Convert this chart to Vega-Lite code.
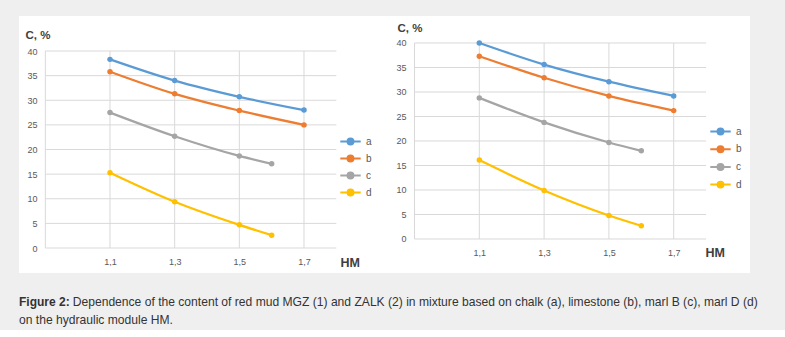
{
  "$schema": "https://vega.github.io/schema/vega-lite/v6.json",
  "background": "#efefef",
  "padding": {"left": 19, "top": 16, "right": 35, "bottom": 4},
  "config": {"view": {"stroke": null, "fill": "white"}, "font": "Liberation Sans"},
  "datasets": {
    "hgrid": [{"v": 0}, {"v": 5}, {"v": 10}, {"v": 15}, {"v": 20}, {"v": 25}, {"v": 30}, {"v": 35}, {"v": 40}],
    "vgrid": [{"v": 0.9}, {"v": 1.1}, {"v": 1.3}, {"v": 1.5}, {"v": 1.7}],
    "mgz": [
      {"series": "a", "HM": 1.1, "C": 38.3}, {"series": "a", "HM": 1.3, "C": 34.0}, {"series": "a", "HM": 1.5, "C": 30.7}, {"series": "a", "HM": 1.7, "C": 28.0},
      {"series": "b", "HM": 1.1, "C": 35.8}, {"series": "b", "HM": 1.3, "C": 31.3}, {"series": "b", "HM": 1.5, "C": 27.9}, {"series": "b", "HM": 1.7, "C": 25.0},
      {"series": "c", "HM": 1.1, "C": 27.5}, {"series": "c", "HM": 1.3, "C": 22.7}, {"series": "c", "HM": 1.5, "C": 18.7}, {"series": "c", "HM": 1.6, "C": 17.1},
      {"series": "d", "HM": 1.1, "C": 15.3}, {"series": "d", "HM": 1.3, "C": 9.4}, {"series": "d", "HM": 1.5, "C": 4.7}, {"series": "d", "HM": 1.6, "C": 2.6}
    ],
    "zalk": [
      {"series": "a", "HM": 1.1, "C": 40.0}, {"series": "a", "HM": 1.3, "C": 35.6}, {"series": "a", "HM": 1.5, "C": 32.1}, {"series": "a", "HM": 1.7, "C": 29.2},
      {"series": "b", "HM": 1.1, "C": 37.3}, {"series": "b", "HM": 1.3, "C": 32.9}, {"series": "b", "HM": 1.5, "C": 29.2}, {"series": "b", "HM": 1.7, "C": 26.2},
      {"series": "c", "HM": 1.1, "C": 28.8}, {"series": "c", "HM": 1.3, "C": 23.8}, {"series": "c", "HM": 1.5, "C": 19.7}, {"series": "c", "HM": 1.6, "C": 18.0},
      {"series": "d", "HM": 1.1, "C": 16.1}, {"series": "d", "HM": 1.3, "C": 9.9}, {"series": "d", "HM": 1.5, "C": 4.8}, {"series": "d", "HM": 1.6, "C": 2.7}
    ]
  },
  "title": {
    "text": "Figure 2:",
    "subtitle": ["\u200b\u00a0\u00a0\u00a0\u00a0\u00a0\u00a0\u00a0\u00a0\u00a0\u00a0\u00a0\u00a0\u00a0\u00a0\u00a0\u00a0Dependence of the content of red mud MGZ (1) and ZALK (2) in mixture based on chalk (a), limestone (b), marl B (c), marl D (d)", "on the hydraulic module HM."],
    "orient": "bottom",
    "anchor": "start",
    "offset": 24,
    "font": "Liberation Sans",
    "fontSize": 12,
    "fontWeight": "bold",
    "color": "#333333",
    "subtitleFont": "Liberation Sans",
    "subtitleFontSize": 12.1,
    "subtitleColor": "#333333",
    "subtitleLineHeight": 18,
    "subtitlePadding": -13.5
  },
  "resolve": {"legend": {"color": "independent"}},
  "spacing": 0,
  "hconcat": [
    {
      "width": 366,
      "height": 257,
      "layer": [
        {
          "data": {"name": "hgrid"},
          "mark": {"type": "rule", "color": "#d9d9d9", "strokeWidth": 1},
          "encoding": {
            "y": {"field": "v", "type": "quantitative", "scale": {"domain": [-5.076, 47.107], "nice": false, "zero": false},
              "axis": {"title": "C, %", "values": [0, 5, 10, 15, 20, 25, 30, 35, 40], "labelOverlap": false, "ticks": false, "domain": false, "grid": false, "offset": -26, "labelPadding": 8, "labelFontSize": 9, "labelColor": "#595959", "titleAngle": 0, "titleX": -20, "titleY": 19, "titleAlign": "left", "titleBaseline": "middle", "titleFontSize": 11.5, "titleFontWeight": "bold", "titleColor": "#404040"}},
            "x": {"datum": 0.9, "type": "quantitative", "scale": {"domain": [0.81856, 1.95052], "nice": false, "zero": false},
              "axis": {"title": "HM", "values": [1.1, 1.3, 1.5, 1.7], "format": ".1f", "labelExpr": "replace(datum.label, '.', ',')", "labelOverlap": false, "ticks": false, "domain": false, "grid": false, "offset": -25, "labelPadding": 9, "labelFontSize": 9, "labelColor": "#595959", "titleX": 321, "titleY": 14, "titleAlign": "left", "titleBaseline": "middle", "titleFontSize": 12.5, "titleFontWeight": "bold", "titleColor": "#404040"}},
            "x2": {"datum": 1.8}
          }
        },
        {
          "data": {"name": "vgrid"},
          "mark": {"type": "rule", "color": "#d9d9d9", "strokeWidth": 1},
          "encoding": {
            "x": {"field": "v", "type": "quantitative", "scale": {"domain": [0.81856, 1.95052], "nice": false, "zero": false},
              "axis": {"title": "HM", "values": [1.1, 1.3, 1.5, 1.7], "format": ".1f", "labelExpr": "replace(datum.label, '.', ',')", "labelOverlap": false, "ticks": false, "domain": false, "grid": false, "offset": -25, "labelPadding": 9, "labelFontSize": 9, "labelColor": "#595959", "titleX": 321, "titleY": 14, "titleAlign": "left", "titleBaseline": "middle", "titleFontSize": 12.5, "titleFontWeight": "bold", "titleColor": "#404040"}},
            "y": {"datum": 0, "type": "quantitative", "scale": {"domain": [-5.076, 47.107], "nice": false, "zero": false},
              "axis": {"title": "C, %", "values": [0, 5, 10, 15, 20, 25, 30, 35, 40], "labelOverlap": false, "ticks": false, "domain": false, "grid": false, "offset": -26, "labelPadding": 8, "labelFontSize": 9, "labelColor": "#595959", "titleAngle": 0, "titleX": -20, "titleY": 19, "titleAlign": "left", "titleBaseline": "middle", "titleFontSize": 11.5, "titleFontWeight": "bold", "titleColor": "#404040"}},
            "y2": {"datum": 40}
          }
        },
        {
          "data": {"name": "mgz"},
          "mark": {"type": "line", "interpolate": "monotone", "strokeWidth": 2.25, "point": {"filled": true, "size": 30}},
          "encoding": {
            "x": {"field": "HM", "type": "quantitative", "scale": {"domain": [0.81856, 1.95052], "nice": false, "zero": false},
              "axis": {"title": "HM", "values": [1.1, 1.3, 1.5, 1.7], "format": ".1f", "labelExpr": "replace(datum.label, '.', ',')", "labelOverlap": false, "ticks": false, "domain": false, "grid": false, "offset": -25, "labelPadding": 9, "labelFontSize": 9, "labelColor": "#595959", "titleX": 321, "titleY": 14, "titleAlign": "left", "titleBaseline": "middle", "titleFontSize": 12.5, "titleFontWeight": "bold", "titleColor": "#404040"}},
            "y": {"field": "C", "type": "quantitative", "scale": {"domain": [-5.076, 47.107], "nice": false, "zero": false},
              "axis": {"title": "C, %", "values": [0, 5, 10, 15, 20, 25, 30, 35, 40], "labelOverlap": false, "ticks": false, "domain": false, "grid": false, "offset": -26, "labelPadding": 8, "labelFontSize": 9, "labelColor": "#595959", "titleAngle": 0, "titleX": -20, "titleY": 19, "titleAlign": "left", "titleBaseline": "middle", "titleFontSize": 11.5, "titleFontWeight": "bold", "titleColor": "#404040"}},
            "color": {"field": "series", "type": "nominal", "scale": {"domain": ["a", "b", "c", "d"], "range": ["#5B9BD5", "#ED7D31", "#A5A5A5", "#FFC000"]},
              "legend": {"orient": "none", "legendX": 322, "legendY": 116, "title": null, "padding": 0, "rowPadding": 0, "symbolType": "M-1.2,0H1.2M-0.35,0A0.35,0.35,0,1,1,0.35,0A0.35,0.35,0,1,1,-0.35,0Z", "symbolSize": 289, "symbolStrokeWidth": 2, "labelFontSize": 10, "labelColor": "#595959", "labelOffset": 6,
                "encode": {"symbols": {"update": {"fill": {"scale": "color", "field": "value"}, "stroke": {"scale": "color", "field": "value"}}}}}}
          }
        }
      ]
    },
    {
      "width": 365,
      "height": 257,
      "layer": [
        {
          "data": {"name": "hgrid"},
          "mark": {"type": "rule", "color": "#d9d9d9", "strokeWidth": 1},
          "encoding": {
            "y": {"field": "v", "type": "quantitative", "scale": {"domain": [-6.94, 45.51], "nice": false, "zero": false},
              "axis": {"title": "C, %", "values": [0, 5, 10, 15, 20, 25, 30, 35, 40], "labelOverlap": false, "ticks": false, "domain": false, "grid": false, "offset": -30, "labelPadding": 9, "labelFontSize": 9, "labelColor": "#595959", "titleAngle": 0, "titleX": -18, "titleY": 12, "titleAlign": "left", "titleBaseline": "middle", "titleFontSize": 11.5, "titleFontWeight": "bold", "titleColor": "#404040"}},
            "x": {"datum": 0.9, "type": "quantitative", "scale": {"domain": [0.8089, 1.9355], "nice": false, "zero": false},
              "axis": {"title": "HM", "values": [1.1, 1.3, 1.5, 1.7], "format": ".1f", "labelExpr": "replace(datum.label, '.', ',')", "labelOverlap": false, "ticks": false, "domain": false, "grid": false, "offset": -34, "labelPadding": 9, "labelFontSize": 9, "labelColor": "#595959", "titleX": 320, "titleY": 13, "titleAlign": "left", "titleBaseline": "middle", "titleFontSize": 12.5, "titleFontWeight": "bold", "titleColor": "#404040"}},
            "x2": {"datum": 1.8}
          }
        },
        {
          "data": {"name": "vgrid"},
          "mark": {"type": "rule", "color": "#d9d9d9", "strokeWidth": 1},
          "encoding": {
            "x": {"field": "v", "type": "quantitative", "scale": {"domain": [0.8089, 1.9355], "nice": false, "zero": false},
              "axis": {"title": "HM", "values": [1.1, 1.3, 1.5, 1.7], "format": ".1f", "labelExpr": "replace(datum.label, '.', ',')", "labelOverlap": false, "ticks": false, "domain": false, "grid": false, "offset": -34, "labelPadding": 9, "labelFontSize": 9, "labelColor": "#595959", "titleX": 320, "titleY": 13, "titleAlign": "left", "titleBaseline": "middle", "titleFontSize": 12.5, "titleFontWeight": "bold", "titleColor": "#404040"}},
            "y": {"datum": 0, "type": "quantitative", "scale": {"domain": [-6.94, 45.51], "nice": false, "zero": false},
              "axis": {"title": "C, %", "values": [0, 5, 10, 15, 20, 25, 30, 35, 40], "labelOverlap": false, "ticks": false, "domain": false, "grid": false, "offset": -30, "labelPadding": 9, "labelFontSize": 9, "labelColor": "#595959", "titleAngle": 0, "titleX": -18, "titleY": 12, "titleAlign": "left", "titleBaseline": "middle", "titleFontSize": 11.5, "titleFontWeight": "bold", "titleColor": "#404040"}},
            "y2": {"datum": 40}
          }
        },
        {
          "data": {"name": "zalk"},
          "mark": {"type": "line", "interpolate": "monotone", "strokeWidth": 2.25, "point": {"filled": true, "size": 30}},
          "encoding": {
            "x": {"field": "HM", "type": "quantitative", "scale": {"domain": [0.8089, 1.9355], "nice": false, "zero": false},
              "axis": {"title": "HM", "values": [1.1, 1.3, 1.5, 1.7], "format": ".1f", "labelExpr": "replace(datum.label, '.', ',')", "labelOverlap": false, "ticks": false, "domain": false, "grid": false, "offset": -34, "labelPadding": 9, "labelFontSize": 9, "labelColor": "#595959", "titleX": 320, "titleY": 13, "titleAlign": "left", "titleBaseline": "middle", "titleFontSize": 12.5, "titleFontWeight": "bold", "titleColor": "#404040"}},
            "y": {"field": "C", "type": "quantitative", "scale": {"domain": [-6.94, 45.51], "nice": false, "zero": false},
              "axis": {"title": "C, %", "values": [0, 5, 10, 15, 20, 25, 30, 35, 40], "labelOverlap": false, "ticks": false, "domain": false, "grid": false, "offset": -30, "labelPadding": 9, "labelFontSize": 9, "labelColor": "#595959", "titleAngle": 0, "titleX": -18, "titleY": 12, "titleAlign": "left", "titleBaseline": "middle", "titleFontSize": 11.5, "titleFontWeight": "bold", "titleColor": "#404040"}},
            "color": {"field": "series", "type": "nominal", "scale": {"domain": ["a", "b", "c", "d"], "range": ["#5B9BD5", "#ED7D31", "#A5A5A5", "#FFC000"]},
              "legend": {"orient": "none", "legendX": 326, "legendY": 106, "title": null, "padding": 0, "rowPadding": 0.7, "symbolType": "M-1.2,0H1.2M-0.35,0A0.35,0.35,0,1,1,0.35,0A0.35,0.35,0,1,1,-0.35,0Z", "symbolSize": 289, "symbolStrokeWidth": 2, "labelFontSize": 10, "labelColor": "#595959", "labelOffset": 6,
                "encode": {"symbols": {"update": {"fill": {"scale": "color", "field": "value"}, "stroke": {"scale": "color", "field": "value"}}}}}}
          }
        }
      ]
    }
  ]
}
